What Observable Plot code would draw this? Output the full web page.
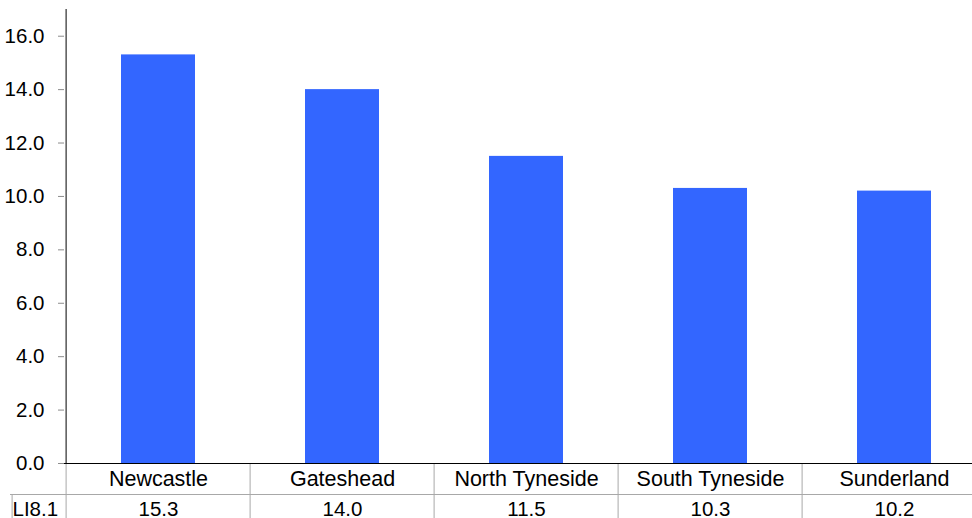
<!DOCTYPE html>
<html>
<head>
<meta charset="utf-8">
<script src="https://cdn.jsdelivr.net/npm/d3@7"></script>
<script src="https://cdn.jsdelivr.net/npm/@observablehq/plot@0.6"></script>
<style>
  body { margin: 0; background: #fff; overflow: hidden; }
  svg { display: block; }
</style>
</head>
<body>
<div id="chart"></div>
<script>
// Indicator LI8.1 by local authority
const areas = ["Newcastle", "Gateshead", "North Tyneside", "South Tyneside", "Sunderland"];
const values = [15.3, 14.0, 11.5, 10.3, 10.2];
const rowLabel = "LI8.1";
const yTicks = [0, 2, 4, 6, 8, 10, 12, 14, 16];

const data = areas.map((area, i) => ({area, value: values[i]}));

const width = 972, height = 518;
const marginLeft = 64, marginTop = 9, marginBottom = 55;
// the last column runs past the right edge of the page
const xRange = [marginLeft, 988];
const step = (xRange[1] - xRange[0]) / areas.length;
const font = "'Liberation Sans', Arial, Helvetica, sans-serif";
const grid = "#a8a8a8";

const chart = Plot.plot({
  width, height,
  marginLeft, marginTop, marginBottom, marginRight: 0,
  style: {fontFamily: font, background: "#fff", color: "#000"},
  x: {domain: areas, range: xRange, paddingInner: 0.6, paddingOuter: 0.3, axis: null},
  y: {domain: [0, 17], axis: null},
  marks: [
    Plot.barY(data, {x: "area", y: "value", fill: "#3366FF"}),
    // y axis: grey ticks, black labels
    Plot.axisY({
      ticks: yTicks, tickFormat: d => d.toFixed(1),
      tickSize: 6, tickPadding: 14, stroke: "#8c8c8c", fill: "#000",
      fontSize: 20.5, label: null
    }),
    // data table below the chart: column separators and row divider
    Plot.ruleX(areas, {x: d => d, dx: -step / 2, y1: 0, y2: 0, insetBottom: -marginBottom, stroke: grid}),
    Plot.ruleX([areas[0]], {x: d => d, dx: -step / 2 - 54, y1: 0, y2: 0, insetTop: 31, insetBottom: -marginBottom, stroke: grid}),
    Plot.ruleY([0], {dy: 31, insetLeft: -54, stroke: grid}),
    // chart frame lines
    Plot.ruleX([areas[0]], {x: d => d, dx: -step / 2, stroke: "#000"}),
    Plot.ruleY([0], {stroke: "#000"}),
    // table contents
    Plot.text(data, {x: "area", text: "area", frameAnchor: "bottom", lineAnchor: "middle", dy: 16, fontSize: 21.5, fill: "#000"}),
    Plot.text(data, {x: "area", text: d => d.value.toFixed(1), frameAnchor: "bottom", lineAnchor: "middle", dy: 46, fontSize: 20.5, fill: "#000"}),
    Plot.text([rowLabel], {text: d => d, frameAnchor: "bottom-left", lineAnchor: "middle", dx: -52, dy: 46, textAnchor: "start", fontSize: 20.5, fill: "#000"})
  ]
});

document.getElementById("chart").append(chart);
</script>
</body>
</html>
